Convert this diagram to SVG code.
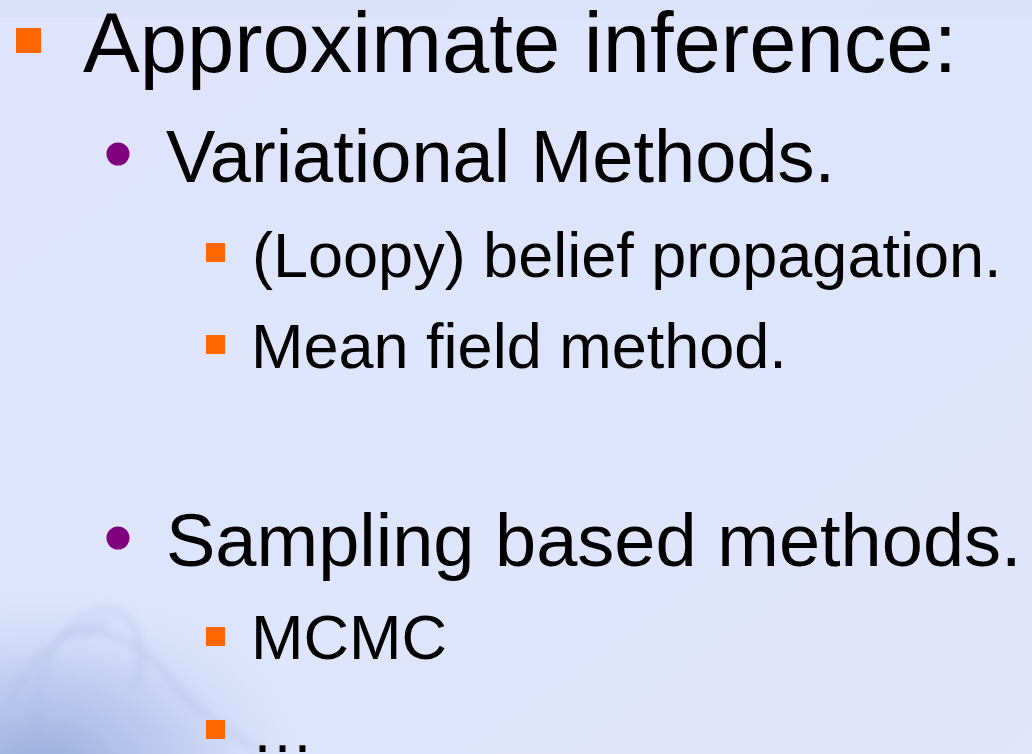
<svg xmlns="http://www.w3.org/2000/svg" width="1032" height="754" viewBox="0 0 1032 754">
  <defs>
    <style>
      .t { font-family: "Liberation Sans", Arial, sans-serif; fill: #000; }
      .l1 { font-size: 85px; }
      .l2 { font-size: 74px; }
      .l3 { font-size: 63px; }
      .sq { fill: #ff6600; }
      .dot { fill: #800080; }
    </style>
    <linearGradient id="bg" x1="0" y1="0" x2="1" y2="1">
      <stop offset="0" stop-color="#e0e4fc"/>
      <stop offset="0.5" stop-color="#dde5fc"/>
      <stop offset="1" stop-color="#e2e5fb"/>
    </linearGradient>
    <radialGradient id="haze" cx="0.5" cy="0.5" r="0.5">
      <stop offset="0" stop-color="#8ea5d6" stop-opacity="0.9"/>
      <stop offset="0.45" stop-color="#aabce4" stop-opacity="0.6"/>
      <stop offset="1" stop-color="#dde5fc" stop-opacity="0"/>
    </radialGradient>
    <filter id="soft" x="-20%" y="-20%" width="140%" height="140%">
      <feGaussianBlur stdDeviation="4"/>
    </filter>
  </defs>

  <!-- slide background -->
  <rect width="1032" height="754" fill="url(#bg)"/>
  <rect x="0" y="0" width="1032" height="18" fill="#d8e0f8" opacity="0.6"/>

  <!-- faint swirl decoration, lower left -->
  <g id="swirl">
    <ellipse cx="40" cy="770" rx="300" ry="200" fill="url(#haze)"/>
    <g fill="none" stroke="#a2b4de" stroke-width="5" opacity="0.35" filter="url(#soft)">
      <path d="M40 754 C 30 690, 45 630, 95 612 C 130 600, 150 640, 135 690"/>
      <path d="M60 640 C 100 620, 140 640, 170 680 C 200 715, 230 735, 260 750"/>
      <path d="M10 700 C 30 660, 60 630, 110 622"/>
    </g>
  </g>

  <!-- level 1: Approximate inference -->
  <g id="item-approx">
    <rect class="sq" x="16" y="28" width="25" height="25"/>
    <text class="t l1" x="83" y="72">Approximate inference:</text>
  </g>

  <!-- level 2: Variational Methods -->
  <g id="item-variational">
    <circle class="dot" cx="118" cy="154" r="11.5"/>
    <text class="t l2" x="166" y="182">Variational Methods.</text>
  </g>

  <!-- level 3 -->
  <g id="item-bp">
    <rect class="sq" x="206" y="243" width="19" height="19"/>
    <text class="t l3" x="252" y="277">(Loopy) belief propagation.</text>
  </g>
  <g id="item-meanfield">
    <rect class="sq" x="206" y="335" width="19" height="19"/>
    <text class="t l3" x="251" y="368">Mean field method.</text>
  </g>

  <!-- level 2: Sampling based methods -->
  <g id="item-sampling">
    <circle class="dot" cx="118" cy="538" r="11.5"/>
    <text class="t l2" x="166" y="566">Sampling based methods.</text>
  </g>

  <!-- level 3 -->
  <g id="item-mcmc">
    <rect class="sq" x="206" y="627" width="19" height="19"/>
    <text class="t l3" x="251" y="659">MCMC</text>
  </g>
  <g id="item-more">
    <rect class="sq" x="206" y="720" width="19" height="19"/>
    <text class="t l3" x="251" y="752">…</text>
  </g>
</svg>
